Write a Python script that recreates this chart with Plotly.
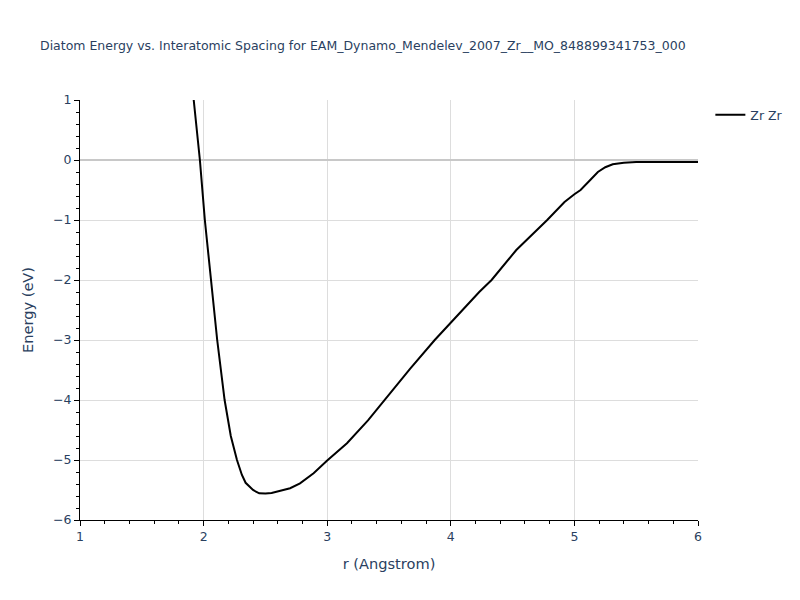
import plotly.graph_objects as go

r_values = [1.92, 1.95, 1.97, 2.01, 2.06, 2.11, 2.17, 2.22, 2.27, 2.31, 2.34, 2.40, 2.45,
            2.50, 2.55, 2.62, 2.70, 2.78, 2.89, 3.00, 3.16, 3.33, 3.45, 3.67, 3.87, 4.00,
            4.23, 4.33, 4.53, 4.78, 4.92, 5.00, 5.05, 5.13, 5.19, 5.25, 5.31, 5.40, 5.50, 6.00]
energy_values = [1.0, 0.35, 0.0, -1.0, -2.0, -3.0, -4.0, -4.6, -5.0, -5.25, -5.38, -5.50, -5.555,
                 -5.56, -5.55, -5.51, -5.47, -5.39, -5.22, -5.01, -4.72, -4.34, -4.03, -3.48, -3.0, -2.71,
                 -2.2, -2.0, -1.5, -1.0, -0.7, -0.57, -0.5, -0.33, -0.2, -0.12, -0.07, -0.045, -0.035, -0.035]

title_text = "Diatom Energy vs. Interatomic Spacing for EAM_Dynamo_Mendelev_2007_Zr__MO_848899341753_000"

FONT = "DejaVu Sans"

fig = go.Figure()
fig.add_trace(go.Scatter(x=r_values, y=energy_values, mode="lines", name="Zr Zr",
                         line=dict(color="black", width=2)))

axis_common = dict(showline=True, linecolor="black", linewidth=1, ticks="outside",
                   tickcolor="black", ticklen=5, gridcolor="#dddddd", gridwidth=1,
                   tickfont=dict(size=12.5, color="#2a3f5f"),
                   minor=dict(ticks="outside", ticklen=3, tickcolor="black", showgrid=False))

fig.update_layout(
    template="plotly_white",
    width=800, height=600,
    font=dict(family=FONT, color="#2a3f5f"),
    title=dict(text=title_text, x=0.05, font=dict(size=12.5, color="#2a3f5f")),
    xaxis=dict(title=dict(text="r (Angstrom)", font=dict(size=14.6, color="#2a3f5f")),
               range=[1, 6], dtick=1, zeroline=False, **axis_common),
    yaxis=dict(title=dict(text="Energy (eV)", font=dict(size=14.6, color="#2a3f5f")),
               range=[-6, 1], dtick=1, zeroline=True, zerolinecolor="#c8c8c8", zerolinewidth=2,
               **axis_common),
    legend=dict(font=dict(size=12.5, color="#2a3f5f")),
    showlegend=True,
    margin=dict(l=80, r=80, t=100, b=80),
    plot_bgcolor="white", paper_bgcolor="white",
)
fig.update_xaxes(minor=dict(dtick=0.2))
fig.update_yaxes(minor=dict(dtick=0.2))

fig.write_html("out.html", config={"displayModeBar": False},
               post_script="document.body.style.margin='0';")
